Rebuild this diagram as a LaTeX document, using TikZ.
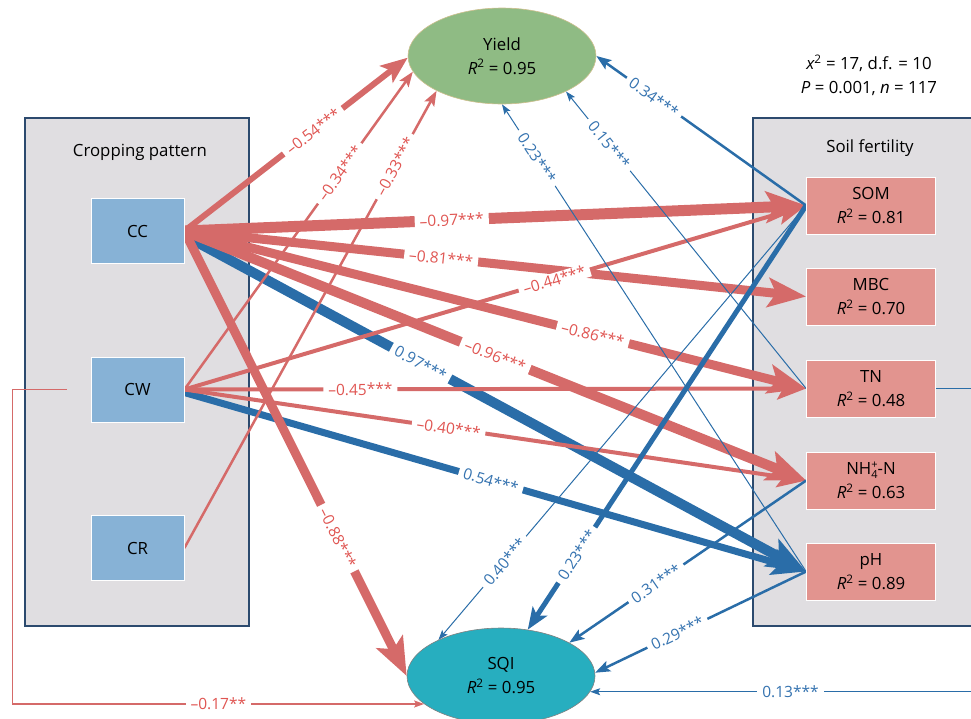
\documentclass[tikz,border=0pt]{standalone}
\usepackage{fontspec}
\setmainfont{Open Sans}
\usetikzlibrary{arrows.meta,shapes.geometric,calc}
\pgfdeclarelayer{panels}
\pgfdeclarelayer{edges}
\pgfsetlayers{panels,edges,main}
\definecolor{redline}{HTML}{D56A69}
\definecolor{redtext}{HTML}{E05552}
\definecolor{blueline}{HTML}{2A6DA8}
\definecolor{bluetext}{HTML}{3573B0}
\definecolor{panelfill}{HTML}{E0DEE1}
\definecolor{paneldraw}{HTML}{2C4A6E}
\definecolor{cropfill}{HTML}{87B2D6}
\definecolor{soilfill}{HTML}{E2948F}
\definecolor{yieldfill}{HTML}{8FBB84}
\definecolor{yieldborder}{HTML}{CDBF8E}
\definecolor{sqifill}{HTML}{27AEBF}
\newcommand{\lblfont}{\fontsize{15.5}{18}\selectfont}
\newcommand{\nodefont}{\fontsize{16.8}{24}\selectfont}
\newcommand{\Rsq}{{\itshape R}\textsuperscript{2}}
\newcommand{\ammon}{NH\rlap{\raisebox{-4pt}{\fontsize{11}{12}\selectfont 4}}\raisebox{6.5pt}{\fontsize{11}{12}\selectfont +}-N}
\tikzset{
  panelbox/.style={draw=paneldraw, line width=1.3pt, fill=panelfill, minimum height=508pt, inner sep=0pt},
  cropbox/.style={draw=white, line width=0.8pt, fill=cropfill, minimum width=93pt, minimum height=65pt, inner sep=0pt, font=\nodefont},
  soilbox/.style={draw=white, line width=0.8pt, fill=soilfill, minimum width=129pt, minimum height=57pt, inner sep=0pt, align=center, font=\nodefont},
  oval/.style={ellipse, minimum width=188pt, minimum height=96pt, inner sep=0pt, align=center, font=\nodefont},
  redge/.style={draw=redline},
  bedge/.style={draw=blueline},
  rlab/.style={sloped, fill=white, text=redtext, font=\lblfont, inner xsep=5pt, inner ysep=1pt},
  blab/.style={sloped, fill=white, text=bluetext, font=\lblfont, inner xsep=5pt, inner ysep=1pt},
  arr1/.style={line width=1pt, -{Stealth[length=10pt,width=7pt,inset=2pt]}},
  arr15/.style={line width=1.5pt, -{Stealth[length=10pt,width=7pt,inset=2pt]}},
  arr25/.style={line width=2.5pt, -{Stealth[length=15pt,width=11pt,inset=3pt]}},
  arr4/.style={line width=4pt, -{Stealth[length=29pt,width=22pt,inset=6pt]}},
  arr5/.style={line width=5pt, -{Stealth[length=22pt,width=17pt,inset=5pt]}},
  arr6/.style={line width=6pt, -{Stealth[length=27pt,width=21pt,inset=6pt]}},
  arr7/.style={line width=7pt, -{Stealth[length=34pt,width=26pt,inset=7pt]}},
  arr9/.style={line width=9pt, -{Stealth[length=38pt,width=29pt,inset=8pt]}},
  arr10/.style={line width=10pt, -{Stealth[length=39pt,width=30pt,inset=8pt]}},
  arr11/.style={line width=11pt, -{Stealth[length=40pt,width=31pt,inset=8pt]}},
}
\begin{document}
\begin{tikzpicture}[x=1pt,y=-1pt]
\useasboundingbox (0,0) rectangle (971,718);
\begin{pgfonlayer}{panels}
\node[panelbox, minimum width=224pt] (croppanel) at (137,372) {};
\node[panelbox, minimum width=237pt] (soilpanel) at (871.5,372) {};
\end{pgfonlayer}
\node[font=\nodefont] (croptitle) at (140,152) {Cropping pattern};
\node[font=\nodefont] (soiltitle) at (870,148) {Soil fertility};
\node[cropbox] (cc) at (137.5,231) {CC};
\node[cropbox] (cw) at (137.5,389.5) {CW};
\node[cropbox] (cr) at (137.5,548) {CR};
\node[soilbox] (som) at (871,205.5) {SOM\\\Rsq{} = 0.81};
\node[soilbox] (mbc) at (871,296.5) {MBC\\\Rsq{} = 0.70};
\node[soilbox] (tn) at (871,388.5) {TN\\\Rsq{} = 0.48};
\node[soilbox] (nh) at (871,480.5) {\ammon\\\Rsq{} = 0.63};
\node[soilbox] (ph) at (871,571.5) {pH\\\Rsq{} = 0.89};
\node[oval, fill=yieldfill, draw=yieldborder, line width=0.6pt] (yield) at (502,56) {Yield\\\Rsq{} = 0.95};
\node[oval, fill=sqifill, draw=gray, line width=0.6pt] (sqi) at (501,676) {SQI\\\Rsq{} = 0.95};
\node[font=\nodefont, align=center] (stats) at (869,75) {{\itshape x}\textsuperscript{2} = 17, d.f. = 10\\{\itshape P} = 0.001, {\itshape n} = 117};
\begin{pgfonlayer}{edges}
% blue from cropping pattern
\draw[bedge, arr10] ($(cc.east)+(3,6)$) -- node[blab, pos=0.377] {0.97***} (ph.west);
\draw[bedge, arr7] ($(cw.east)+(0,3)$) -- node[blab, pos=0.493] {0.54***} (ph.west);
% red from cropping pattern
\draw[redge, arr11] (cc.east) -- node[rlab, pos=0.43] {–0.97***} (som.west);
\draw[redge, arr9] (cc.east) -- node[rlab, pos=0.413] {–0.81***} (mbc.west);
\draw[redge, arr9] (cc.east) -- node[rlab, pos=0.657] {–0.86***} (tn.west);
\draw[redge, arr10] (cc.east) -- node[rlab, pos=0.5] {–0.96***} (nh.west);
\draw[redge, arr9] (cc.east) -- node[rlab, pos=0.69] {–0.88***} (sqi.west);
\draw[redge, arr6] (cc.east) -- node[rlab, pos=0.576] {–0.54***} (yield.181);
\draw[redge, arr25] (cw.east) -- node[rlab, pos=0.68] {–0.34***} (yield.190);
\draw[redge, arr25] (cr.east) -- node[rlab, pos=0.834] {–0.33***} (yield.208);
\draw[redge, arr4] (cw.east) -- node[rlab, pos=0.595] {–0.44***} (som.west);
\draw[redge, arr4] (cw.east) -- node[rlab, pos=0.283] {–0.45***} (tn.west);
\draw[redge, arr4] (cw.east) -- node[rlab, pos=0.425] {–0.40***} (nh.west);
\draw[redge, arr15] ($(cw.west)+(-24,0)$) -- ++(-54,0) |- node[rlab, pos=0.75] {–0.17**} (sqi.200);
% blue from soil fertility
\draw[bedge, arr25] (som.west) -- node[blab, pos=0.725] {0.34***} (yield.east);
\draw[bedge, arr1] (tn.west) -- node[blab, pos=0.82] {0.15***} (yield.331);
\draw[bedge, arr1] (ph.west) -- node[blab, pos=0.885] {0.23***} (yield.south);
\draw[bedge, arr1] (som.west) -- node[blab, pos=0.82] {0.40***} (sqi.150);
\draw[bedge, arr5] (som.west) -- node[blab, pos=0.824] {0.23***} (sqi.60);
\draw[bedge, arr25] (nh.west) -- node[blab, pos=0.634] {0.31***} (sqi.26);
\draw[bedge, arr25] (ph.west) -- node[blab, pos=0.61] {0.29***} (sqi.2);
\draw[bedge, arr1] (tn.east) -- ++(55,0) |- node[blab, pos=0.75] {0.13***} (sqi.-10);
\end{pgfonlayer}
\end{tikzpicture}
\end{document}
